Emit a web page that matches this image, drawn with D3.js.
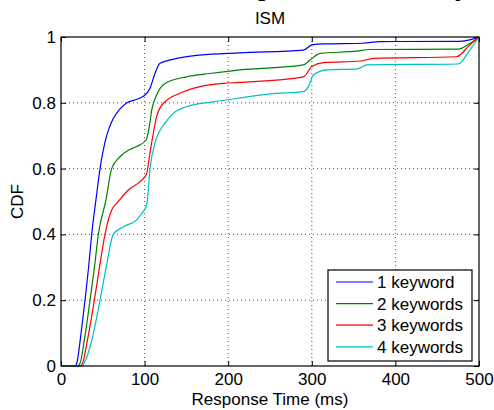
<!DOCTYPE html>
<html>
<head>
<meta charset="utf-8">
<script src="https://cdn.jsdelivr.net/npm/d3@7"></script>
<style>
  body { margin: 0; background: #fff; }
  svg text { font-family: "Liberation Sans", Arial, sans-serif; }
</style>
</head>
<body>
<div id="chart"></div>
<script>
// data: [response time ms, CDF]
const oneKeyword = [[0,0],[17,0],[19,0.01],[24,0.1],[28.7,0.2],[33,0.3],[36.7,0.4],[41.8,0.505],[46.7,0.6],[54.6,0.7],[62,0.75],[70,0.78],[79,0.8],[90,0.81],[98.5,0.82],[103,0.83],[106.5,0.845],[112.5,0.89],[118.4,0.92],[134,0.932],[166,0.945],[214,0.952],[290,0.96],[300,0.976],[314,0.979],[361,0.981],[381.6,0.986],[477,0.987],[490,0.992],[500,1]];
const twoKeywords = [[0,0],[20,0],[23,0.01],[28,0.08],[34.7,0.2],[40,0.3],[44.7,0.4],[53.8,0.505],[60.6,0.6],[70.6,0.636],[80,0.655],[90.5,0.667],[101.7,0.687],[105.7,0.729],[108.5,0.778],[113.6,0.819],[124.4,0.859],[150,0.879],[178,0.889],[214,0.9],[290,0.915],[298,0.93],[310,0.95],[354,0.957],[369,0.962],[475,0.963],[489,0.98],[500,1]];
const threeKeywords = [[0,0],[23,0],[26,0.01],[31,0.07],[39.9,0.2],[46,0.3],[52.6,0.4],[60.6,0.474],[66.6,0.494],[80.5,0.535],[96.5,0.565],[102.5,0.585],[105.7,0.636],[109.7,0.697],[114.4,0.758],[122.4,0.798],[142.3,0.829],[166.3,0.849],[194,0.859],[214,0.862],[290,0.879],[300,0.91],[314,0.922],[358,0.927],[374,0.935],[473,0.94],[489,0.976],[500,1]];
const fourKeywords = [[0,0],[25,0],[28,0.01],[35,0.06],[46.7,0.2],[54,0.3],[62.6,0.4],[74.5,0.423],[90.5,0.444],[96.5,0.464],[101.7,0.484],[103.3,0.505],[106.5,0.6],[112.4,0.677],[124.4,0.738],[134.3,0.768],[150,0.788],[182,0.803],[214,0.815],[254,0.828],[290,0.834],[296,0.849],[302,0.885],[318,0.9],[354,0.903],[366,0.915],[475,0.918],[489,0.96],[500,1]];

const seriesNames = ["1 keyword", "2 keywords", "3 keywords", "4 keywords"];
const seriesValues = [oneKeyword, twoKeywords, threeKeywords, fourKeywords];
const seriesColors = ["#0000ff", "#008000", "#ff0000", "#00bfbf"];
const xTicks = [0, 100, 200, 300, 400, 500];
const yTicks = [0, 0.2, 0.4, 0.6, 0.8, 1];

const W = 494, H = 410;
const margin = {top: 37, right: 15, bottom: 44, left: 61};
const width = W - margin.left - margin.right;
const height = H - margin.top - margin.bottom;
const fs = "17px";

const svg = d3.select("#chart").append("svg")
    .attr("width", W)
    .attr("height", H);

// cropped caption from the page above the figure
svg.append("text")
    .attr("x", 258).attr("y", -5)
    .style("font-family", "'Liberation Serif', serif")
    .style("font-size", "30px")
    .text("p");
svg.append("text")
    .attr("x", 455).attr("y", -5)
    .style("font-family", "'Liberation Serif', serif")
    .style("font-size", "30px")
    .text("y");

const g = svg.append("g")
    .attr("transform", `translate(${margin.left},${margin.top})`);

const x = d3.scaleLinear().domain([0, 500]).range([0, width]);
const y = d3.scaleLinear().domain([0, 1]).range([height, 0]);

// grid
g.append("g").selectAll("line")
    .data(xTicks.slice(1, -1)).join("line")
    .attr("x1", d => x(d)).attr("x2", d => x(d))
    .attr("y1", 0).attr("y2", height)
    .attr("stroke", "#555").attr("stroke-width", 1)
    .attr("stroke-dasharray", "1,3");
g.append("g").selectAll("line")
    .data(yTicks.slice(1, -1)).join("line")
    .attr("y1", d => y(d)).attr("y2", d => y(d))
    .attr("x1", 0).attr("x2", width)
    .attr("stroke", "#555").attr("stroke-width", 1)
    .attr("stroke-dasharray", "1,3");

// axes with inward ticks on all sides
function styleAxis(sel) {
    sel.select(".domain").remove();
    sel.selectAll("text").style("font-size", fs).attr("fill", "#000");
    sel.selectAll("line").attr("stroke", "#000");
}
g.append("g")
    .attr("transform", `translate(0,${height})`)
    .call(d3.axisBottom(x).tickValues(xTicks).tickSizeInner(-5).tickSizeOuter(0).tickPadding(7))
    .call(styleAxis);
g.append("g")
    .call(d3.axisLeft(y).tickValues(yTicks).tickFormat(d3.format("~g")).tickSizeInner(-5).tickSizeOuter(0).tickPadding(5))
    .call(styleAxis);
g.append("g")
    .call(d3.axisTop(x).tickValues(xTicks).tickFormat("").tickSizeInner(-5).tickSizeOuter(0))
    .call(styleAxis);
g.append("g")
    .attr("transform", `translate(${width},0)`)
    .call(d3.axisRight(y).tickValues(yTicks).tickFormat("").tickSizeInner(-5).tickSizeOuter(0))
    .call(styleAxis);

// lines
const line = d3.line().x(d => x(d[0])).y(d => y(d[1])).curve(d3.curveMonotoneX);
g.append("g").selectAll("path")
    .data(seriesValues).join("path")
    .attr("d", line)
    .attr("fill", "none")
    .attr("stroke", (d, i) => seriesColors[i])
    .attr("stroke-width", 1.2);

// frame
g.append("rect")
    .attr("width", width).attr("height", height)
    .attr("fill", "none").attr("stroke", "#000").attr("stroke-width", 1.2);

// title and axis labels
svg.append("text")
    .attr("x", margin.left + width / 2).attr("y", 24)
    .attr("text-anchor", "middle")
    .style("font-size", fs)
    .text("ISM");
svg.append("text")
    .attr("x", margin.left + width / 2).attr("y", 405)
    .attr("text-anchor", "middle")
    .style("font-size", fs)
    .text("Response Time (ms)");
svg.append("text")
    .attr("transform", `translate(23,${margin.top + height / 2}) rotate(-90)`)
    .attr("text-anchor", "middle")
    .style("font-size", fs)
    .text("CDF");

// legend
const legend = svg.append("g").attr("transform", "translate(328,270)");
legend.append("rect")
    .attr("width", 144).attr("height", 91)
    .attr("fill", "#fff").attr("stroke", "#000").attr("stroke-width", 1.2);
const rows = legend.selectAll("g.row")
    .data(seriesNames).join("g")
    .attr("class", "row")
    .attr("transform", (d, i) => `translate(0,${12 + i * 21.6})`);
rows.append("line")
    .attr("x1", 8).attr("x2", 45)
    .attr("stroke", (d, i) => seriesColors[i]).attr("stroke-width", 1.2);
rows.append("text")
    .attr("x", 49).attr("dy", "0.35em")
    .style("font-size", fs)
    .text(d => d);
</script>
</body>
</html>
